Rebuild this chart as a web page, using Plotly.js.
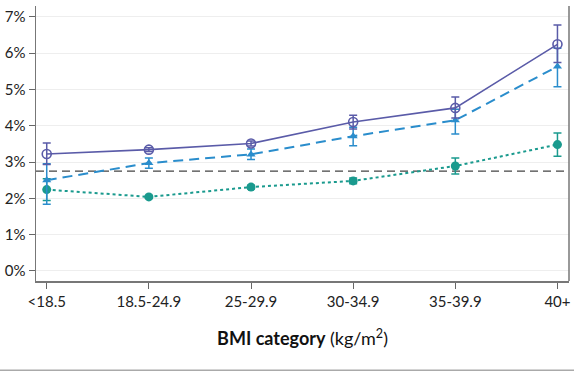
<!DOCTYPE html>
<html>
<head>
<meta charset="utf-8">
<script src="https://cdn.plot.ly/plotly-3.0.1.min.js"></script>
<style>html,body{margin:0;padding:0;background:#fff;}#chart{width:574px;height:371px;}</style>
</head>
<body>
<div id="chart"></div>
<script>
const categories = ["<18.5", "18.5-24.9", "25-29.9", "30-34.9", "35-39.9", "40+"];
const yTickVals = [0, 1, 2, 3, 4, 5, 6, 7];

const seriesA = [3.22, 3.34, 3.51, 4.10, 4.49, 6.24];
const seriesAErrUp = [0.30, 0.05, 0.07, 0.19, 0.30, 0.53];
const seriesAErrDown = [0.29, 0.05, 0.07, 0.19, 0.28, 0.50];

const seriesB = [2.50, 2.97, 3.21, 3.71, 4.15, 5.63];
const seriesBErrUp = [0.45, 0.14, 0.15, 0.25, 0.30, 0.50];
const seriesBErrDown = [0.66, 0.14, 0.14, 0.26, 0.38, 0.56];

const seriesC = [2.24, 2.04, 2.31, 2.48, 2.89, 3.48];
const seriesCErr = [0.30, 0.04, 0.05, 0.08, 0.22, 0.32];

const referenceLevel = 2.75;

const xIdx = categories.map((_, i) => i);

function errBar(up, down, color) {
  return {type: 'data', symmetric: false, array: up, arrayminus: down,
          color: color, thickness: 1.5, width: 4};
}

const cA = '#5a5ba8', cB = '#2a8dcc', cC = '#1a9a8e';

const data = [
  {x: xIdx, y: seriesC, type: 'scatter', mode: 'lines+markers',
   line: {color: cC, width: 2, dash: '3px,3px'},
   marker: {symbol: 'circle', size: 9, color: cC},
   error_y: errBar(seriesCErr, seriesCErr, cC), showlegend: false},
  {x: xIdx, y: seriesB, type: 'scatter', mode: 'lines+markers',
   line: {color: cB, width: 2, dash: '10px,6px'},
   marker: {symbol: 'triangle-up', size: 8, color: cB},
   error_y: errBar(seriesBErrUp, seriesBErrDown, cB), showlegend: false},
  {x: xIdx, y: seriesA, type: 'scatter', mode: 'lines+markers',
   line: {color: cA, width: 1.6},
   marker: {symbol: 'circle-open', size: 9, color: cA, line: {width: 1.6, color: cA}},
   error_y: errBar(seriesAErrUp, seriesAErrDown, cA), showlegend: false}
];

const layout = {
  width: 574, height: 371,
  margin: {l: 36, r: 5, t: 6, b: 90},
  paper_bgcolor: '#fff', plot_bgcolor: '#fff',
  font: {family: 'Lato, "Open Sans", sans-serif', color: '#222'},
  xaxis: {
    range: [-0.105, 5.113],
    tickmode: 'array', tickvals: xIdx, ticktext: categories,
    ticks: 'outside', ticklen: 6, tickcolor: '#666', tickwidth: 1,
    showline: true, linecolor: '#777', linewidth: 1.5, mirror: false,
    showgrid: false, zeroline: false,
    tickfont: {size: 15, color: '#222'},
    title: {text: '<b>BMI category</b> (kg/m<sup>2</sup>)', font: {size: 18, color: '#111'}, standoff: 24}
  },
  yaxis: {
    range: [-0.276, 7.295],
    tickmode: 'array', tickvals: yTickVals, ticktext: yTickVals.map(v => v + '%'),
    ticks: 'outside', ticklen: 6, tickcolor: '#666', tickwidth: 1,
    showline: true, linecolor: '#777', linewidth: 1.5,
    showgrid: true, gridcolor: '#eeeeee', gridwidth: 1,
    zeroline: false,
    tickfont: {size: 15, color: '#222'}
  },
  shapes: [
    {type: 'line', xref: 'paper', yref: 'y', x0: 0, x1: 1, y0: referenceLevel, y1: referenceLevel,
     line: {color: '#444', width: 1.3, dash: '8px,5px'}, layer: 'below'},
    {type: 'line', xref: 'paper', yref: 'paper', x0: 1, x1: 1, y0: 0, y1: 1,
     line: {color: '#777', width: 1.5}},
    {type: 'line', xref: 'paper', yref: 'paper', x0: -0.07, x1: 1.01, y0: -0.325, y1: -0.325,
     line: {color: '#aaa', width: 2}}
  ]
};

Plotly.newPlot('chart', data, layout, {displayModeBar: false, staticPlot: true});
</script>
</body>
</html>
